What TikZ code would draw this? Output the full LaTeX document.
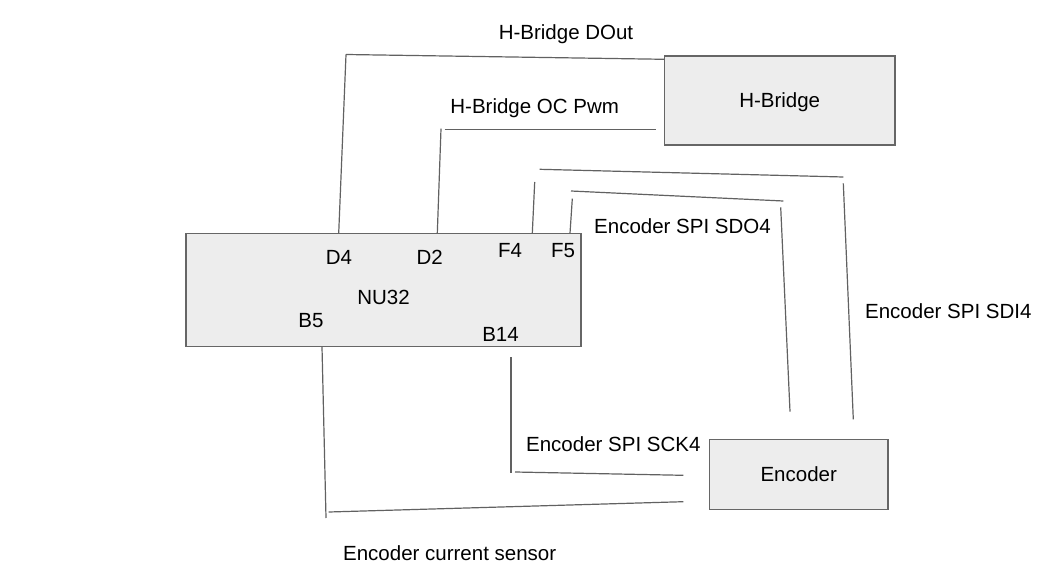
\documentclass[tikz,border=0pt]{standalone}
\usepackage{fontspec}
\setmainfont{Liberation Sans}
\colorlet{wire line}{black!62}
\colorlet{block edge}{black!60}
\colorlet{block area}{black!7}
\tikzset{
  block/.style={draw=block edge, fill=block area, line width=1.2pt, inner sep=0pt, text depth=0pt},
  lbl/.style={anchor=base, inner sep=0pt}
  }
\tikzstyle{wire} = [draw, line width=1.2pt, -, wire line]
% wire end points (hand placed, in px)
\def\ends{{(338.7,233.3)/d4a}, {(346,54.5)/d4b}, {(664.3,59.3)/hb1},
  {(437.3,233.3)/d2a}, {(441,128.7)/d2b}, {(444.7,129.3)/d2c}, {(655.7,129.3)/d2d},
  {(532.3,233.3)/f4a}, {(534.7,182)/f4b}, {(539.7,169.3)/f4c}, {(843.3,177)/f4d},
  {(843.3,183.3)/f4e}, {(853.3,419.3)/f4f},
  {(570,233.3)/f5a}, {(572.3,198.7)/f5b}, {(571,191)/f5c}, {(783.3,201)/f5d},
  {(780.7,207.3)/f5e}, {(790,411.7)/f5f},
  {(511,357.3)/b14a}, {(511,472.7)/b14b}, {(515,472)/b14c}, {(683.3,475.3)/b14d},
  {(322,347)/b5a}, {(326,518)/b5b}, {(328.7,512)/b5c}, {(683.3,501.7)/b5d}}
\def\wires{d4a/d4b, d4b/hb1, d2a/d2b, d2c/d2d, f4a/f4b, f4c/f4d, f4e/f4f,
  f5a/f5b, f5c/f5d, f5e/f5f, b14a/b14b, b14c/b14d, b5a/b5b, b5c/b5d}

\begin{document}
\begin{tikzpicture}[x=1pt, y=-1pt, every node/.style={font=\fontsize{20.5}{24}\selectfont}]
    \useasboundingbox (0,0) rectangle (1043,585);

    % The blocks
    \node[block, minimum width=395pt, minimum height=113.4pt] (nu32) at (383.5,290) {};
    \node[block, minimum width=230.7pt, minimum height=89pt] (hbridge) at (779.7,100.5) {H-Bridge};
    \node[block, minimum width=178.7pt, minimum height=70pt] (encoder) at (798.7,474.3) {Encoder};

    % Pins of the NU32
    \foreach \pos/\name/\txt in {{(383.5,304)/nu32lbl/NU32}, {(339,264)/d4/D4}, {(429.7,264)/d2/D2},
      {(510,258)/f4/F4}, {(563,258)/f5/F5}, {(311,327.7)/b5/B5}, {(500.5,341.7)/b14/B14}}
      \node[lbl] (\name) at \pos {\txt};

    % The wire labels
    \node[lbl] (doutlbl) at (566,40) {H-Bridge DOut};
    \node[lbl] (pwmlbl) at (534.7,113.3) {H-Bridge OC Pwm};
    \node[lbl] (sdolbl) at (682.5,233.3) {Encoder SPI SDO4};
    \node[lbl] (sdilbl) at (948.3,318) {Encoder SPI SDI4};
    \node[lbl] (scklbl) at (613.3,451.5) {Encoder SPI SCK4};
    \node[lbl] (senselbl) at (449.7,560) {Encoder current sensor};

    % wire end points
    \foreach \pos/\name in \ends
      \path \pos coordinate (\name);

    % The wires
    \foreach \source/\sink in \wires
      \path[wire] (\source) -- (\sink);

\end{tikzpicture}
\end{document}
